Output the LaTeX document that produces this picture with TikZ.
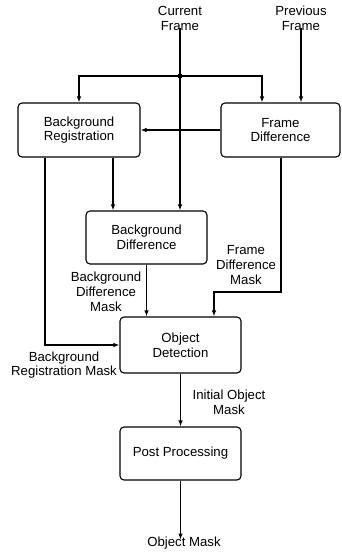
\documentclass[tikz,border=0pt]{standalone}
\usepackage{fontspec}
\setmainfont{Liberation Sans}
\usetikzlibrary{arrows.meta}

\begin{document}
\begin{tikzpicture}[x=1pt,y=1pt,yscale=-1,xscale=1,
    block/.style={draw, line width=1.1pt, rounded corners=4pt, align=center, inner sep=0pt},
    lbl/.style={align=center, inner sep=0pt},
    flow/.style={line width=1.1pt, -{Latex[length=6pt,width=4.5pt]}},
    font=\fontsize{13.2}{14.8}\selectfont]
  \useasboundingbox (0,0) rectangle (341,552);

  % Inputs
  \node [lbl] (cur) at (180,18.5) {Current\\Frame};
  \node [lbl] (prev) at (301,18.5) {Previous\\Frame};

  % Blocks
  \node [block, minimum width=122pt, minimum height=54pt] (br) at (79,130) {Background\\Registration};
  \node [block, minimum width=119pt, minimum height=54pt] (fd) at (280.5,130) {Frame\\Difference};
  \node [block, minimum width=121pt, minimum height=53pt] (bd) at (146.5,237.5) {Background\\Difference};
  \node [block, minimum width=121pt, minimum height=56pt] (od) at (180.5,345) {Object\\Detection};
  \node [block, minimum width=121pt, minimum height=53pt] (pp) at (180.5,453.5) {Post Processing};

  % Output
  \node [lbl] (out) at (184,543) {Object Mask};

  % Labels
  \node [lbl] (bdmask) at (106,292) {Background\\Difference\\Mask};
  \node [lbl] (fdmask) at (246,265) {Frame\\Difference\\Mask};
  \node [lbl] (brmask) at (64,365) {Background\\Registration Mask};
  \node [lbl] (iomask) at (229,402.5) {Initial Object\\Mask};

  \coordinate (jn) at (180,76);
  \coordinate (fdbend) at (214,292);

  % Connectors
  \draw [flow] ([yshift=-3pt]cur.south) -- (cur.south |- bd.north);
  \fill (jn) circle (2.6pt);
  \draw [flow] (jn) -| (br.north);
  \draw [flow] (jn) -| ([xshift=-18.5pt]fd.north);
  \draw [flow] ([yshift=-3pt]prev.south) -- (prev.south |- fd.north);
  \draw [flow] (fd.west) -- (br.east);
  \draw [flow] ([xshift=34pt]br.south) -- ([xshift=34pt]br.south |- bd.north);
  \draw [flow] ([xshift=-34pt]br.south) |- (od.west);
  \draw [flow] (bd.south) -- (bd.south |- od.north);
  \draw [flow] ([xshift=0.5pt]fd.south) |- (fdbend) -- (fdbend |- od.north);
  \draw [flow] (od.south) -- (pp.north);
  \draw [flow] (pp.south) -- ([yshift=3pt]pp.south |- out.north);
\end{tikzpicture}
\end{document}
